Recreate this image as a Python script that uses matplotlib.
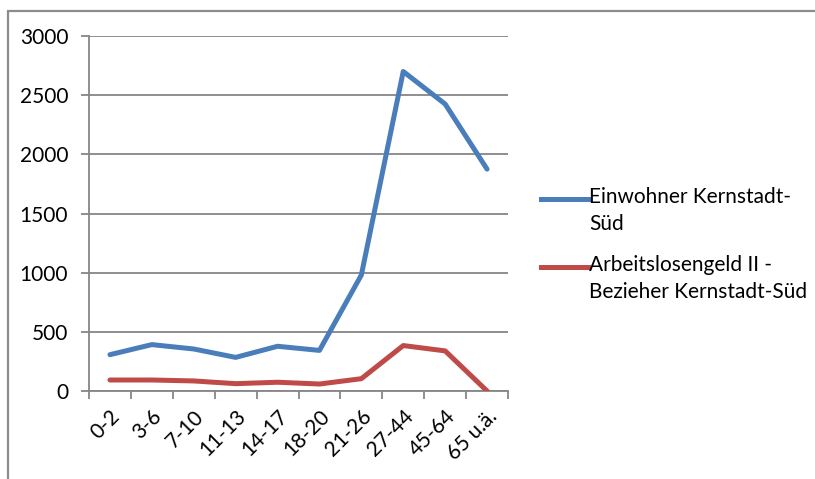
import matplotlib.pyplot as plt
from matplotlib.lines import Line2D
from matplotlib.patches import Rectangle

plt.rcParams["font.family"] = ["Lato", "DejaVu Sans"]

age_groups = ["0-2", "3-6", "7-10", "11-13", "14-17", "18-20",
              "21-26", "27-44", "45-64", "65 u.ä."]
einwohner = [307, 392, 355, 284, 378, 343, 980, 2700, 2425, 1875]
alg2 = [93, 93, 85, 62, 74, 59, 104, 384, 339, 0]

series = [
    ("Einwohner Kernstadt-\nSüd", einwohner, "#4A7EBB"),
    ("Arbeitslosengeld II -\nBezieher Kernstadt-Süd", alg2, "#BE4B48"),
]

GRID = "#868686"
FS = 15

fig = plt.figure(figsize=(8.15, 4.79), dpi=100)
# chart area frame (only top and left edges fall inside the image)
fig.patches.append(Rectangle((8 / 815, -0.1), 1.2, 1 - 11 / 479 + 0.1,
                             transform=fig.transFigure, fill=False,
                             edgecolor="#8c8c8c", linewidth=1.6))

ax = fig.add_axes([89 / 815, 1 - 391 / 479, (508 - 89) / 815, (391 - 36) / 479])
x = list(range(len(age_groups)))
for label, vals, col in series:
    ax.plot(x, vals, color=col, linewidth=3.6, solid_capstyle="round",
            solid_joinstyle="round", zorder=3)

ax.set_xlim(-0.5, len(age_groups) - 0.5)
ax.set_ylim(0, 3000)
ax.set_yticks(range(0, 3001, 500))
ax.yaxis.grid(True, color=GRID, linewidth=1.3)
ax.set_axisbelow(True)

for side in ("top", "right"):
    ax.spines[side].set_visible(False)
for side in ("left", "bottom"):
    ax.spines[side].set_color(GRID)
    ax.spines[side].set_linewidth(1.3)

ax.set_xticks([i - 0.5 for i in range(len(age_groups) + 1)], minor=False)
ax.set_xticklabels([])
ax.set_xticks(x, minor=True)
ax.set_xticklabels(age_groups, minor=True, rotation=45, ha="right",
                   rotation_mode="anchor", fontsize=FS)
ax.tick_params(axis="x", which="major", length=6, width=1.3, color=GRID)
ax.tick_params(axis="x", which="minor", length=0, pad=11)
ax.tick_params(axis="y", length=6, width=1.3, color=GRID, labelsize=FS, pad=9)

# legend drawn to the right of the plot, handle level with the first line
legend_y = [199, 267]
for (label, _, col), ly in zip(series, legend_y):
    yf = 1 - ly / 479
    fig.add_artist(Line2D([541 / 815, 588 / 815], [yf, yf], color=col,
                          linewidth=3.6, transform=fig.transFigure))
    fig.text(589 / 815, yf + 12 / 479, label, fontsize=FS, va="top",
             ha="left", linespacing=1.45)

fig.savefig("out.png", dpi=100, facecolor="white")
